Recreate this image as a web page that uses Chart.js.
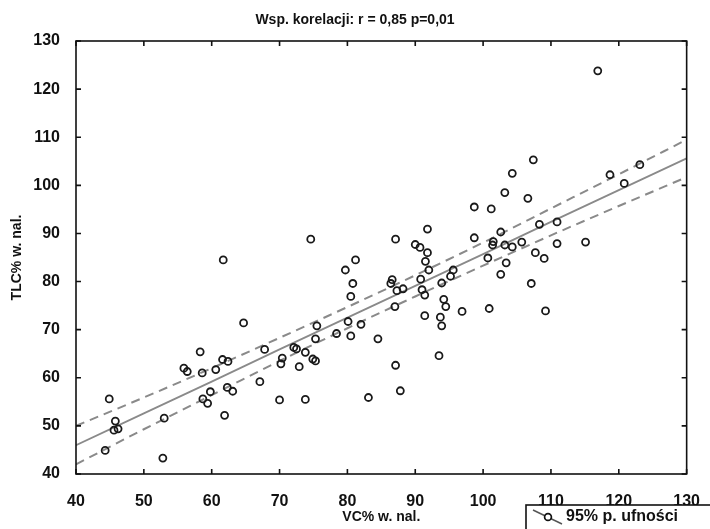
<!DOCTYPE html>
<html>
<head>
<meta charset="utf-8">
<script src="https://cdn.jsdelivr.net/npm/chart.js@4.4.0/dist/chart.umd.min.js"></script>
<style>
  html, body { margin: 0; padding: 0; background: #fff; }
  #wrap { width: 710px; height: 529px; }
</style>
</head>
<body>
<div id="wrap"><canvas id="c" width="710" height="529"></canvas></div>
<script>
// VC% of predicted (x) against TLC% of predicted (y), one entry per patient
const vc = [
  44.3, 44.9, 45.8, 45.6, 46.2, 52.8, 53.0, 55.9, 56.4, 58.3,
  58.6, 58.7, 59.4, 59.8, 60.6, 61.6, 62.4, 62.3, 63.1, 61.9,
  61.7, 64.7, 67.1, 67.8, 70.0, 70.2, 70.4, 72.1, 72.5, 72.9,
  73.8, 73.8, 74.9, 75.3, 75.3, 75.5, 74.6, 78.4, 80.5, 80.1,
  82.0, 84.5, 80.5, 80.8, 79.7, 81.2, 83.1, 87.1, 86.6, 86.4,
  87.3, 88.2, 87.0, 87.1, 87.8, 90.0, 90.7, 91.8, 91.8, 91.5,
  92.0, 90.8, 91.0, 91.4, 91.4, 93.9, 95.6, 95.2, 94.2, 94.5,
  93.7, 93.9, 93.5, 96.9, 98.7, 101.2, 98.7, 101.4, 100.7, 100.9,
  116.9, 107.4, 104.3, 103.2, 106.6, 118.7, 123.1, 120.8, 102.6, 101.5,
  103.2, 104.3, 105.7, 108.3, 110.9, 110.9, 115.1, 107.7, 109.0, 103.4,
  102.6, 107.1, 109.2
];
const tlc = [
  44.9, 55.6, 51.0, 49.1, 49.4, 43.3, 51.6, 62.0, 61.3, 65.4,
  61.0, 55.6, 54.7, 57.1, 61.7, 63.8, 63.4, 58.0, 57.2, 52.2,
  84.5, 71.4, 59.2, 65.9, 55.4, 62.9, 64.1, 66.3, 66.0, 62.3,
  65.3, 55.5, 63.9, 63.5, 68.1, 70.8, 88.8, 69.2, 68.7, 71.7,
  71.1, 68.1, 76.9, 79.6, 82.4, 84.5, 55.9, 88.8, 80.4, 79.6,
  78.1, 78.5, 74.8, 62.6, 57.3, 87.7, 87.1, 90.9, 86.0, 84.2,
  82.4, 80.5, 78.3, 77.2, 72.9, 79.7, 82.4, 81.1, 76.3, 74.8,
  72.6, 70.8, 64.6, 73.8, 95.5, 95.1, 89.1, 87.6, 84.9, 74.4,
  123.8, 105.3, 102.5, 98.5, 97.3, 102.2, 104.3, 100.4, 90.3, 88.3,
  87.6, 87.2, 88.2, 91.9, 92.4, 87.9, 88.2, 86.0, 84.8, 83.9,
  81.5, 79.6, 73.9
];

// Regression line and its 95% confidence band, sampled along the x range
const bandX  = [40, 50, 60, 70, 80, 90, 100, 110, 120, 130];
const fitY   = [46.0, 52.6, 59.2, 65.9, 72.5, 79.1, 85.7, 92.4, 99.0, 105.6];
const upperY = [50.0, 55.9, 62.0, 68.3, 74.7, 81.3, 88.1, 95.2, 102.3, 109.5];
const lowerY = [42.0, 49.3, 56.4, 63.5, 70.3, 76.9, 83.3, 89.6, 95.7, 101.7];

const titleText = 'Wsp. korelacji: r = 0,85 p=0,01';
const xTitle = 'VC% w. nal.';
const yTitle = 'TLC% w. nal.';
const bandLabel = '95% p. ufności';

const FONT = '"Liberation Sans", Arial, sans-serif';
const INK = '#111';
const LINE_GREY = '#8a8a8a';

const toXY = (xs, ys) => xs.map((v, i) => ({ x: v, y: ys[i] }));

// Box frame with inward tick marks on all four sides, plus the band legend
const framePlugin = {
  id: 'frame',
  afterDatasetsDraw(chart) {
    const { ctx, chartArea: a, scales: { x, y } } = chart;
    ctx.save();
    ctx.strokeStyle = INK;
    ctx.lineWidth = 1.6;
    ctx.strokeRect(a.left, a.top, a.right - a.left, a.bottom - a.top);
    ctx.beginPath();
    const len = 5;
    x.ticks.forEach(t => {
      const px = x.getPixelForValue(t.value);
      ctx.moveTo(px, a.bottom); ctx.lineTo(px, a.bottom - len);
      ctx.moveTo(px, a.top); ctx.lineTo(px, a.top + len);
    });
    y.ticks.forEach(t => {
      const py = y.getPixelForValue(t.value);
      ctx.moveTo(a.left, py); ctx.lineTo(a.left + len, py);
      ctx.moveTo(a.right, py); ctx.lineTo(a.right - len, py);
    });
    ctx.stroke();
    ctx.restore();
  },
  afterDraw(chart) {
    const { ctx } = chart;
    const label = chart.data.datasets[2].label;
    ctx.save();
    const bx = 526, by = 505;
    ctx.fillStyle = '#fff';
    ctx.fillRect(bx, by, 220, 40);
    ctx.strokeStyle = INK;
    ctx.lineWidth = 1.6;
    ctx.strokeRect(bx, by, 220, 40);
    // symbol: slanted grey line with an open circle marker
    ctx.strokeStyle = '#555';
    ctx.lineWidth = 1.5;
    ctx.beginPath();
    ctx.moveTo(533, 510);
    ctx.lineTo(562, 524);
    ctx.stroke();
    ctx.fillStyle = '#fff';
    ctx.strokeStyle = INK;
    ctx.lineWidth = 1.7;
    ctx.beginPath();
    ctx.arc(548, 517, 3.4, 0, Math.PI * 2);
    ctx.fill();
    ctx.stroke();
    ctx.fillStyle = INK;
    ctx.font = 'bold 16px ' + FONT;
    ctx.textBaseline = 'middle';
    ctx.textAlign = 'left';
    ctx.fillText(label, 566, 517);
    ctx.restore();
  }
};

new Chart(document.getElementById('c'), {
  type: 'scatter',
  data: {
    datasets: [
      {
        label: 'TLC vs VC',
        data: toXY(vc, tlc),
        showLine: false,
        pointStyle: 'circle',
        pointRadius: 3.5,
        pointBorderWidth: 1.8,
        pointBorderColor: '#1a1a1a',
        pointBackgroundColor: 'rgba(0,0,0,0)'
      },
      {
        label: 'Regresja',
        data: toXY(bandX, fitY),
        showLine: true,
        borderColor: LINE_GREY,
        borderWidth: 1.8,
        pointRadius: 0,
        tension: 0
      },
      {
        label: bandLabel,
        data: toXY(bandX, upperY),
        showLine: true,
        borderColor: LINE_GREY,
        borderWidth: 2,
        borderDash: [9, 6],
        pointRadius: 0,
        cubicInterpolationMode: 'monotone'
      },
      {
        label: bandLabel,
        data: toXY(bandX, lowerY),
        showLine: true,
        borderColor: LINE_GREY,
        borderWidth: 2,
        borderDash: [9, 6],
        pointRadius: 0,
        cubicInterpolationMode: 'monotone'
      }
    ]
  },
  options: {
    responsive: false,
    animation: false,
    devicePixelRatio: 1,
    layout: { padding: { top: 0, right: 0, bottom: 0, left: 0 } },
    plugins: {
      legend: { display: false },
      tooltip: { enabled: false },
      title: {
        display: true,
        text: titleText,
        color: INK,
        font: { family: FONT, size: 14, weight: 'bold' },
        padding: { top: 12, bottom: 12.2 }
      }
    },
    scales: {
      x: {
        type: 'linear',
        min: 40,
        max: 130,
        grid: { display: false },
        border: { display: false },
        ticks: {
          stepSize: 10,
          color: INK,
          padding: 10,
          maxRotation: 0,
          font: { family: FONT, size: 16, weight: 'bold' }
        },
        title: {
          display: true,
          text: xTitle,
          color: INK,
          font: { family: FONT, size: 14, weight: 'bold' },
          padding: { top: 0, bottom: 3 }
        },
        afterFit(scale) { scale.height = 55; }
      },
      y: {
        type: 'linear',
        min: 40,
        max: 130,
        grid: { display: false },
        border: { display: false },
        ticks: {
          stepSize: 10,
          color: INK,
          padding: 8,
          font: { family: FONT, size: 16, weight: 'bold' }
        },
        title: {
          display: true,
          text: yTitle,
          color: INK,
          font: { family: FONT, size: 14, weight: 'bold' },
          padding: { top: 9, bottom: 0 }
        },
        afterFit(scale) { scale.width = 76; }
      }
    }
  },
  plugins: [framePlugin]
});
</script>
</body>
</html>
